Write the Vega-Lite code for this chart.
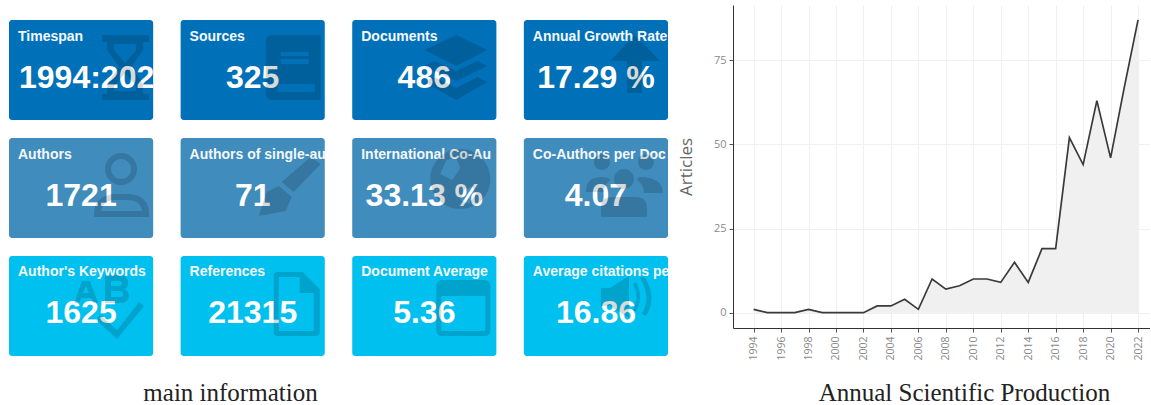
{
"$schema":"https://vega.github.io/schema/vega-lite/v6.json",
"background":"white",
"padding":{"left":9,"top":5,"right":0,"bottom":0},
"bounds":"flush",
"spacing":65,
"config":{"view":{"stroke":null}},
"datasets":{
"cards":[
{"title":"Timespan","value":"1994:202","col":1,"row":1},
{"title":"Sources","value":"325","col":2,"row":1},
{"title":"Documents","value":"486","col":3,"row":1},
{"title":"Annual Growth Rate","value":"17.29 %","col":4,"row":1},
{"title":"Authors","value":"1721","col":1,"row":2},
{"title":"Authors of single-au","value":"71","col":2,"row":2},
{"title":"International Co-Au","value":"33.13 %","col":3,"row":2},
{"title":"Co-Authors per Doc","value":"4.07","col":4,"row":2},
{"title":"Author's Keywords","value":"1625","col":1,"row":3},
{"title":"References","value":"21315","col":2,"row":3},
{"title":"Document Average","value":"5.36","col":3,"row":3},
{"title":"Average citations pe","value":"16.86","col":4,"row":3}
],
"years":[
{"year":1994,"articles":1},{"year":1995,"articles":0},{"year":1996,"articles":0},{"year":1997,"articles":0},{"year":1998,"articles":1},{"year":1999,"articles":0},{"year":2000,"articles":0},{"year":2001,"articles":0},{"year":2002,"articles":0},{"year":2003,"articles":2},{"year":2004,"articles":2},{"year":2005,"articles":4},{"year":2006,"articles":1},{"year":2007,"articles":10},{"year":2008,"articles":7},{"year":2009,"articles":8},{"year":2010,"articles":10},{"year":2011,"articles":10},{"year":2012,"articles":9},{"year":2013,"articles":15},{"year":2014,"articles":9},{"year":2015,"articles":19},{"year":2016,"articles":19},{"year":2017,"articles":52},{"year":2018,"articles":44},{"year":2019,"articles":63},{"year":2020,"articles":46},{"year":2021,"articles":67},{"year":2022,"articles":87}
]},
"hconcat":[
{"width":659,"height":351,"data":{"name":"cards"},
"layer":[
{"mark":{"type":"rect","cornerRadius":3},
"encoding":{
"x":{"field":"col","type":"ordinal","scale":{"type":"band","paddingInner":0.16,"paddingOuter":0},
"axis":{"title":"main information","labels":false,"ticks":false,"domain":false,"grid":false,"titleFont":"Liberation Serif","titleFontSize":25,"titleFontWeight":"normal","titleColor":"#222222","titleX":221,"titleY":44,"titleBaseline":"alphabetic"}},
"y":{"field":"row","type":"ordinal","axis":null,"scale":{"type":"band","paddingInner":0.1525,"paddingOuter":0.0636,"align":1}},
"color":{"field":"row","type":"ordinal","legend":null,"scale":{"domain":[1,2,3],"range":["#0071B8","#3F8CBD","#00C0F0"]}}
}},
{"mark":{"type":"text","font":"Liberation Sans","fontWeight":"bold","fontSize":14,"color":"#F4F8FB","align":"left","baseline":"middle","dx":9},
"encoding":{
"x":{"field":"col","type":"ordinal","bandPosition":0,"scale":{"type":"band","paddingInner":0.16,"paddingOuter":0}},
"y":{"field":"row","type":"ordinal","bandPosition":0.165,"scale":{"type":"band","paddingInner":0.1525,"paddingOuter":0.0636,"align":1}},
"text":{"field":"title"}
}},
{"transform":[{"filter":"datum.title !== 'Timespan'"}],
"mark":{"type":"text","font":"Liberation Sans","fontWeight":"bold","fontSize":32,"color":"white","align":"center","baseline":"middle"},
"encoding":{
"x":{"field":"col","type":"ordinal","bandPosition":0.5,"scale":{"type":"band","paddingInner":0.16,"paddingOuter":0}},
"y":{"field":"row","type":"ordinal","bandPosition":0.575,"scale":{"type":"band","paddingInner":0.1525,"paddingOuter":0.0636,"align":1}},
"text":{"field":"value"}
}},
{"transform":[{"filter":"datum.title === 'Timespan'"}],
"mark":{"type":"text","font":"Liberation Sans","fontWeight":"bold","fontSize":32,"color":"white","align":"left","baseline":"middle","dx":10},
"encoding":{
"x":{"field":"col","type":"ordinal","bandPosition":0,"scale":{"type":"band","paddingInner":0.16,"paddingOuter":0}},
"y":{"field":"row","type":"ordinal","bandPosition":0.575,"scale":{"type":"band","paddingInner":0.1525,"paddingOuter":0.0636,"align":1}},
"text":{"field":"value"}
}},
{"mark":{"type":"point","filled":true,"size":4,"color":"#000000","opacity":0.15},
"encoding":{
"x":{"field":"col","type":"ordinal","bandPosition":0.5,"scale":{"type":"band","paddingInner":0.16,"paddingOuter":0}},
"y":{"field":"row","type":"ordinal","bandPosition":0.5,"scale":{"type":"band","paddingInner":0.1525,"paddingOuter":0.0636,"align":1}},
"shape":{"field":"title","type":"nominal","legend":null,"scale":{
"domain":["Timespan","Sources","Documents","Annual Growth Rate","Authors","Authors of single-au","International Co-Au","Co-Authors per Doc","Author's Keywords","References","Document Average","Average citations pe"],
"range":[
"M21,-35H68V-28H21Z M21,24H68V30H21Z M26,-28L62,-28L62,-20L50,-3L62,14L62,24L26,24L26,14L38,-3L26,-20Z M33,-26L33,-20L44,-7L55,-20L55,-26Z M33,21L55,21L55,16L44,3L33,16Z",
"M13,-28Q13,-35 20,-35H68V30H20Q13,30 13,23Z M28,-18V-14H56V-18Z M28,-11V-6H56V-11Z M25,14V22H62V14Z",
"M0,-20L32,-35L63,-20L32,-4Z M53,-9L63,-4L32,11L0,-4L10,-9L32,1Z M53,7L63,12L32,30L0,12L10,7L32,18Z",
"M39,-35L64,-9H46V23H31V-9H14Z",
"M24,-19A16,16 0 1 1 56,-19A16,16 0 1 1 24,-19Z M30,-19A10,10 0 1 0 50,-19A10,10 0 1 0 30,-19Z M13,29V25C13,12 24,6 35,6H46C58,6 68,12 68,25V29Z M20,23H61C60,15 54,12 46,12H35C27,12 21,15 20,23Z",
"M29,-6L58,-31L68,-24L41,4Z M6,28L14,4L26,-2L39,9L33,23Z",
"M6,-9A30,30 0 1 1 66,-9A30,30 0 1 1 6,-9Z M22,-28L16,-14L28,-8L36,-20L32,-30Z M40,2L36,12L44,16L52,6L48,-2Z",
"M-2,-26A8,8 0 1 1 14,-26A8,8 0 1 1 -2,-26Z M42,-26A8,8 0 1 1 58,-26A8,8 0 1 1 42,-26Z M18,-9A10,10 0 1 1 38,-9A10,10 0 1 1 18,-9Z M-10,4Q-10,-11 6,-11Q12,-11 15,-8Q8,-4 8,4Z M43,-11Q67,-11 67,5H48Q48,-4 41,-8Z M5,29V20Q5,9 16,9H40Q51,9 51,20V29Z",
"M-7,-3L1,-25H9L17,-3H12L10,-8H0L-2,-3Z M2,-13H8L5,-20Z M24,-31H38Q47,-31 47,-23Q47,-18 43,-17Q48,-15 48,-10Q48,-3 38,-3H24Z M30,-25V-20H37Q41,-20 41,-23Q41,-25 37,-25Z M30,-15V-9H38Q42,-9 42,-12Q42,-15 38,-15Z M15,14L19,9L36,24L58,-4L63,0L36,33Z",
"M21,-30Q21,-34 25,-34H50L67,-17V26Q67,30 63,30H25Q21,30 21,26Z M26,-29V25H61V-13H47V-29Z",
"M12,-20Q12,-26 18,-26H60Q66,-26 66,-20V24Q66,30 60,30H18Q12,30 12,24Z M17,-10V25H61V-10Z",
"M5,-18L14,-18L33,-30L33,12L14,0L5,0Z M40,-24Q48,-9 40,6L37,4Q44,-9 37,-22Z M48,-30Q62,-9 50,10L46,8Q56,-9 44,-28Z"
]}}
}}
]},
{"width":417,"height":323,"data":{"name":"years"},
"encoding":{
"x":{"field":"year","type":"quantitative","scale":{"domain":[1992.5,2022.87],"nice":false,"zero":false},
"axis":{"values":[1994,1996,1998,2000,2002,2004,2006,2008,2010,2012,2014,2016,2018,2020,2022],"format":"d","labelAngle":270,"labelAlign":"right","labelBaseline":"middle","labelFont":"Open Sans","labelFontSize":10.5,"labelColor":"#8A8A8A","labelPadding":4,"tickColor":"#555555","tickSize":4,"domainColor":"#333333","domainWidth":1,"grid":true,"gridColor":"#F0F0F0","labelFlush":false,"labelOverlap":false,"labelSeparation":0,"title":"Annual Scientific Production","titleFont":"Liberation Serif","titleFontSize":25,"titleFontWeight":"normal","titleColor":"#222222","titleX":231,"titleY":72,"titleBaseline":"alphabetic"}},
"y":{"field":"articles","type":"quantitative","stack":null,"scale":{"domain":[-4.55,91.4],"nice":false,"zero":false},
"axis":{"values":[0,25,50,75],"labelFont":"Open Sans","labelFontSize":11,"labelColor":"#8A8A8A","labelPadding":3,"tickColor":"#555555","tickSize":4,"domainColor":"#333333","domainWidth":1,"grid":true,"gridColor":"#F0F0F0","title":"Articles","titleFont":"Open Sans","titleFontSize":17,"titleFontWeight":"normal","titleColor":"#666666","titleX":-47,"titleBaseline":"middle"}}
},
"layer":[
{"mark":{"type":"area","color":"#F0F0F0"},
"encoding":{"y2":{"datum":0}}},
{"mark":{"type":"line","color":"#3A3A3A","strokeWidth":1.7},"encoding":{}}
]}
]
}
